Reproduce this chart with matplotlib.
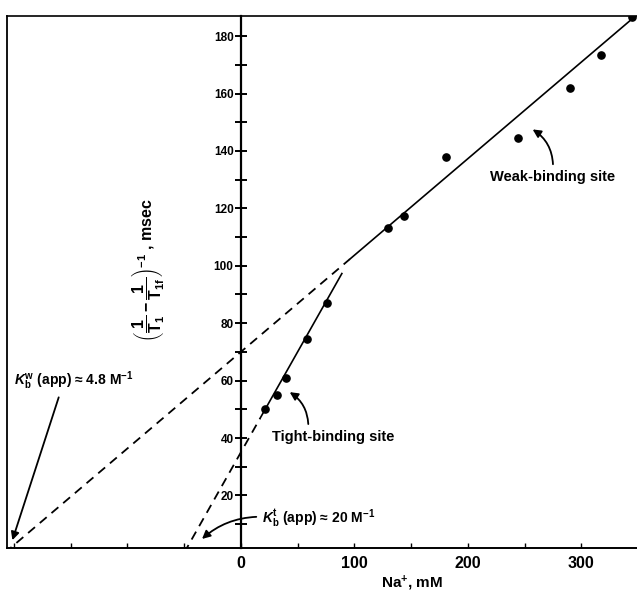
import numpy as np
import matplotlib
matplotlib.use("Agg")
import matplotlib.pyplot as plt
from matplotlib.ticker import MultipleLocator, FixedLocator
from matplotlib.lines import Line2D

plt.rcParams['font.family'] = ['Liberation Sans', 'DejaVu Sans']
plt.rcParams['font.weight'] = 'bold'
plt.rcParams['mathtext.fontset'] = 'custom'
plt.rcParams['mathtext.rm'] = 'Liberation Sans:bold'
plt.rcParams['mathtext.it'] = 'Liberation Sans:bold:italic'

# tight-binding site points (Na+ mM, msec)
tight_x = [21, 32, 40, 58, 76]
tight_y = [50, 55, 61, 74.6, 87]
# weak-binding site points
weak_x = [130, 144, 181, 244, 290, 317, 345]
weak_y = [113, 117.5, 138, 144.5, 162, 173.5, 186.5]

# fitted lines: y-intercept and x-intercept (-1/K)
weak_b, weak_x0 = 70, -208
tight_b, tight_x0 = 35, -50

fig = plt.figure(figsize=(6.37, 5.94), dpi=100)
ax = fig.add_axes([7/637, 1-548/594, 630/637, 532/594])
ax.set_xlim(-206, 349)
ax.set_ylim(1.7, 187)

def line(b, x0, xs):
    xs = np.asarray(xs, float)
    return b - b / x0 * xs

dash = dict(color='k', lw=1.3, ls=(0, (5, 3.5)))
solid = dict(color='k', lw=1.2)

xw_d = np.array([weak_x0, 96])
xw_s = np.array([96, 352])
ax.plot(xw_d, line(weak_b, weak_x0, xw_d), **dash)
ax.plot(xw_s, line(weak_b, weak_x0, xw_s), **solid)

xt_d = np.array([tight_x0, 17])
xt_s = np.array([17, 89])
ax.plot(xt_d, line(tight_b, tight_x0, xt_d), **dash)
ax.plot(xt_s, line(tight_b, tight_x0, xt_s), **solid)

ax.plot(tight_x, tight_y, 'o', color='k', ms=5.2)
ax.plot(weak_x, weak_y, 'o', color='k', ms=5.2)

# spines: y-axis through x=0, box frame left/top
ax.spines['left'].set_position(('data', 0))
ax.spines['left'].set_linewidth(1.6)
ax.spines['right'].set_visible(False)
ax.spines['top'].set_linewidth(1.2)
ax.spines['bottom'].set_linewidth(1.4)
ax.add_line(Line2D([0, 0], [0, 1], transform=ax.transAxes, color='k', lw=1.3, clip_on=False))

ax.yaxis.set_major_locator(FixedLocator([20, 40, 60, 80, 100, 120, 140, 160, 180]))
ax.yaxis.set_minor_locator(MultipleLocator(10))
ax.tick_params(axis='y', which='both', direction='inout', length=8.5, width=1.4, labelsize=8.5, pad=1)

ax.xaxis.set_major_locator(FixedLocator([0, 100, 200, 300]))
ax.xaxis.set_minor_locator(FixedLocator([-200, -150, -100, -50, 50, 150, 250]))
ax.tick_params(axis='x', which='both', direction='in', length=3.5, width=1.0, labelsize=11.5, pad=6)

ax.text((148-7)/630, 1-(270-16)/532,
        r'$\left(\dfrac{\mathrm{1}}{\mathrm{T}_{\mathrm{1}}} - \dfrac{\mathrm{1}}{\mathrm{T}_{\mathrm{1f}}}\right)^{-\mathrm{1}}$ , msec',
        transform=ax.transAxes, rotation=90, ha='center', va='center', fontsize=11.5)
ax.text((412-7)/630, -0.066, 'Na$^{+}$, mM', transform=ax.transAxes,
        ha='center', va='center', fontsize=11)

arrow_curve = dict(arrowstyle='-|>', color='k', lw=1.3, mutation_scale=12)
ax.annotate('Weak-binding site', xy=(255, 148), xytext=(275, 131),
            ha='center', va='center', fontsize=10.5,
            arrowprops=dict(connectionstyle='arc3,rad=0.3', relpos=(0.5, 1), **arrow_curve))
ax.annotate('Tight-binding site', xy=(41, 56.5), xytext=(81, 40.5),
            ha='center', va='center', fontsize=10.5,
            arrowprops=dict(connectionstyle='arc3,rad=0.3', relpos=(0.3, 1), **arrow_curve))
ax.annotate(r'$K_{\mathrm{b}}^{\mathrm{w}}$ (app) ≈ 4.8 M$^{-1}$', xy=(-202, 3.5), xytext=(-200, 60),
            ha='left', va='center', fontsize=10,
            arrowprops=dict(connectionstyle='arc3,rad=0', relpos=(0.39, 0), **arrow_curve))
ax.annotate(r'$K_{\mathrm{b}}^{\mathrm{t}}$ (app) ≈ 20 M$^{-1}$', xy=(-36, 4.2), xytext=(18.5, 11.8),
            ha='left', va='center', fontsize=10,
            arrowprops=dict(connectionstyle='arc3,rad=0.2', relpos=(0, 0.6), **arrow_curve))

fig.savefig('out.png', dpi=100)
